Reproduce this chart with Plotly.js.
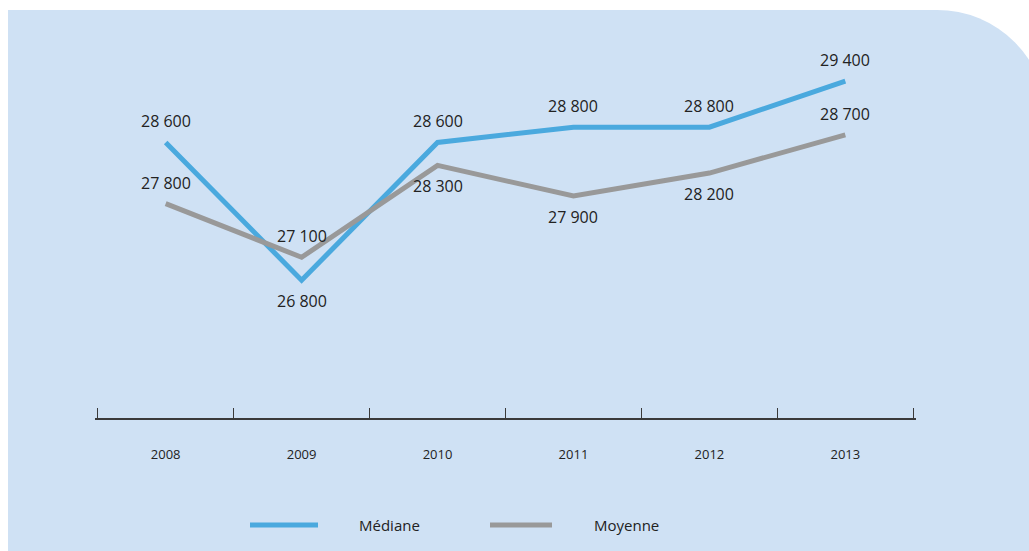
<!DOCTYPE html>
<html>
<head>
<meta charset="utf-8">
<script src="https://cdn.plot.ly/plotly-3.0.1.min.js"></script>
<style>
  html, body { margin:0; padding:0; background:#ffffff; width:1029px; height:551px; overflow:hidden; }
  #panel { position:absolute; left:8px; top:10px; width:1039px; height:560px; background:#cfe1f4; border-top-right-radius:110px; }
  #chart { position:absolute; left:0; top:0; width:1029px; height:551px; }
</style>
</head>
<body>
<div id="panel"></div>
<div id="chart"></div>
<script>
const years = ['2008', '2009', '2010', '2011', '2012', '2013'];
const medianValues = [28600, 26800, 28600, 28800, 28800, 29400];
const meanValues = [27800, 27100, 28300, 27900, 28200, 28700];
const medianLabels = ['28 600', '26 800', '28 600', '28 800', '28 800', '29 400'];
const meanLabels = ['27 800', '27 100', '28 300', '27 900', '28 200', '28 700'];
const medianSide = ['above', 'below', 'above', 'above', 'above', 'above'];
const meanSide = ['above', 'above', 'below', 'below', 'below', 'above'];
const seriesNames = ['Médiane', 'Moyenne'];
const boundaries = [-0.5, 0.5, 1.5, 2.5, 3.5, 4.5, 5.5];

const FONT = 'Open Sans, sans-serif';
const TXT = '#222222';
const BLUE = '#4aa9de';
const GREY = '#999999';
const AX = '#3a3a3a';
const XR = [-0.52, 5.52];

const traces = [
  { x: years, y: medianValues, name: seriesNames[0], type: 'scatter', mode: 'lines',
    line: { color: BLUE, width: 5 }, hoverinfo: 'skip' },
  { x: years, y: meanValues, name: seriesNames[1], type: 'scatter', mode: 'lines',
    line: { color: GREY, width: 5 }, hoverinfo: 'skip' },
  { x: [boundaries[0], boundaries[boundaries.length - 1]], y: [null, null], xaxis: 'x2', yaxis: 'y',
    type: 'scatter', mode: 'lines', hoverinfo: 'skip', showlegend: false }
];

const annotations = [];
function addLabels(vals, labels, sides) {
  vals.forEach((v, i) => {
    annotations.push({
      x: i, y: v, xref: 'x', yref: 'y', text: labels[i], showarrow: false,
      yshift: sides[i] === 'above' ? 21 : -21,
      font: { family: FONT, size: 16, color: TXT }
    });
  });
}
addLabels(medianValues, medianLabels, medianSide);
addLabels(meanValues, meanLabels, meanSide);

const legendY = -107 / 398;
const L = 95, W = 821;
annotations.push(
  { xref: 'paper', yref: 'paper', x: (357 - L) / W, y: legendY, xanchor: 'left', yanchor: 'middle',
    text: seriesNames[0], showarrow: false, font: { family: FONT, size: 15, color: TXT } },
  { xref: 'paper', yref: 'paper', x: (592 - L) / W, y: legendY, xanchor: 'left', yanchor: 'middle',
    text: seriesNames[1], showarrow: false, font: { family: FONT, size: 15, color: TXT } }
);

const layout = {
  width: 1029, height: 551,
  margin: { l: L, r: 1029 - L - W, t: 20, b: 133 },
  paper_bgcolor: 'rgba(0,0,0,0)', plot_bgcolor: 'rgba(0,0,0,0)',
  showlegend: false,
  font: { family: FONT, color: TXT },
  xaxis: {
    type: 'category', range: XR, showgrid: false, zeroline: false,
    showline: true, linecolor: AX, linewidth: 1.5,
    ticks: '', ticklabelstandoff: 24,
    tickfont: { family: FONT, size: 13, color: TXT }, fixedrange: true
  },
  xaxis2: {
    type: 'linear', overlaying: 'x', side: 'bottom', range: XR, anchor: 'y',
    showgrid: false, zeroline: false, showline: false,
    tickmode: 'array', tickvals: boundaries, ticktext: boundaries.map(() => ''),
    ticks: 'inside', ticklen: 10, tickwidth: 1, tickcolor: AX, fixedrange: true
  },
  yaxis: {
    range: [25000, 30200], visible: false, showgrid: false, zeroline: false, fixedrange: true
  },
  shapes: [
    { type: 'line', xref: 'paper', yref: 'paper', x0: (250 - L) / W, x1: (318 - L) / W,
      y0: legendY, y1: legendY, line: { color: BLUE, width: 5 } },
    { type: 'line', xref: 'paper', yref: 'paper', x0: (490 - L) / W, x1: (552 - L) / W,
      y0: legendY, y1: legendY, line: { color: GREY, width: 5 } }
  ],
  annotations: annotations
};

Plotly.newPlot('chart', traces, layout, { staticPlot: true, displayModeBar: false });
</script>
</body>
</html>
